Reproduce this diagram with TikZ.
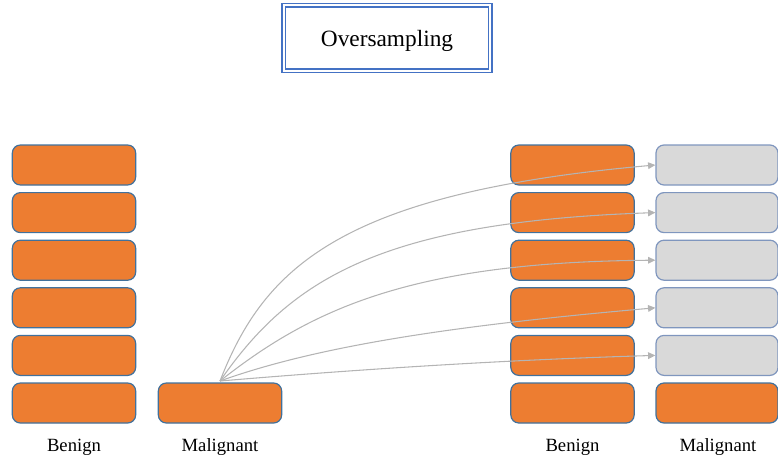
\documentclass[tikz,border=0pt]{standalone}
\usepackage{fontspec}
\setmainfont{Liberation Serif}
\usetikzlibrary{arrows.meta}
\definecolor{orangefill}{HTML}{ED7D31}
\definecolor{boxedge}{HTML}{41719C}
\definecolor{grayfill}{HTML}{D9D9D9}
\definecolor{grayedge}{HTML}{7F96BE}
\definecolor{linegray}{HTML}{B4B4B4}
\definecolor{titleblue}{HTML}{4472C4}
\tikzset{
  orangebox/.style={draw=boxedge, line width=0.9pt, fill=orangefill, rounded corners=6pt,
    minimum width=92.5pt, minimum height=30pt, inner sep=0pt},
  graybox/.style={draw=grayedge, line width=0.9pt, fill=grayfill, rounded corners=6pt,
    minimum width=91.5pt, minimum height=30pt, inner sep=0pt},
  lbl/.style={font=\fontsize{14}{16}\selectfont},
  conn/.style={draw=linegray, line width=0.8pt, -{Triangle[length=5.5pt,width=5pt]}}
}
\begin{document}
\begin{tikzpicture}[x=0.75pt,y=-0.75pt]
\useasboundingbox (0,0) rectangle (778,461);
% title
\node[draw=titleblue, line width=1.3pt, double=white, double distance=1.5pt,
      minimum width=155pt, minimum height=49pt, text depth=0pt,
      font=\fontsize{17.5}{20}\selectfont]
  (title) at (387,38) {Oversampling};
% benign columns
\foreach \i/\y in {1/165,2/212.6,3/260.2,4/307.8,5/355.4,6/403}{
  \node[orangebox] (lb\i) at (74,\y) {};
  \node[orangebox] (rb\i) at (572.5,\y) {};
}
\node[orangebox] (lm) at (220,403) {};
\foreach \i/\y in {1/165,2/212.6,3/260.2,4/307.8,5/355.4}{
  \node[graybox] (rm\i) at (717,\y) {};
}
\node[orangebox, minimum width=91.5pt] (rm6) at (717,403) {};
% labels
\node[lbl] (l1) at (74,447) {Benign};
\node[lbl] (l2) at (220,447) {Malignant};
\node[lbl] (l3) at (572.5,447) {Benign};
\node[lbl] (l4) at (718,447) {Malignant};
% connectors
\coordinate (src) at (220,381);
\draw[conn] (src) .. controls (264,268) and (340,193) .. (rm1.west);
\draw[conn] (src) .. controls (290,280) and (380,222) .. (rm2.west);
\draw[conn] (src) .. controls (310,310) and (410,262) .. (rm3.west);
\draw[conn] (src) .. controls (320,345) and (460,325) .. (rm4.west);
\draw[conn] (src) .. controls (350,370) and (500,360) .. (rm5.west);
\end{tikzpicture}
\end{document}
